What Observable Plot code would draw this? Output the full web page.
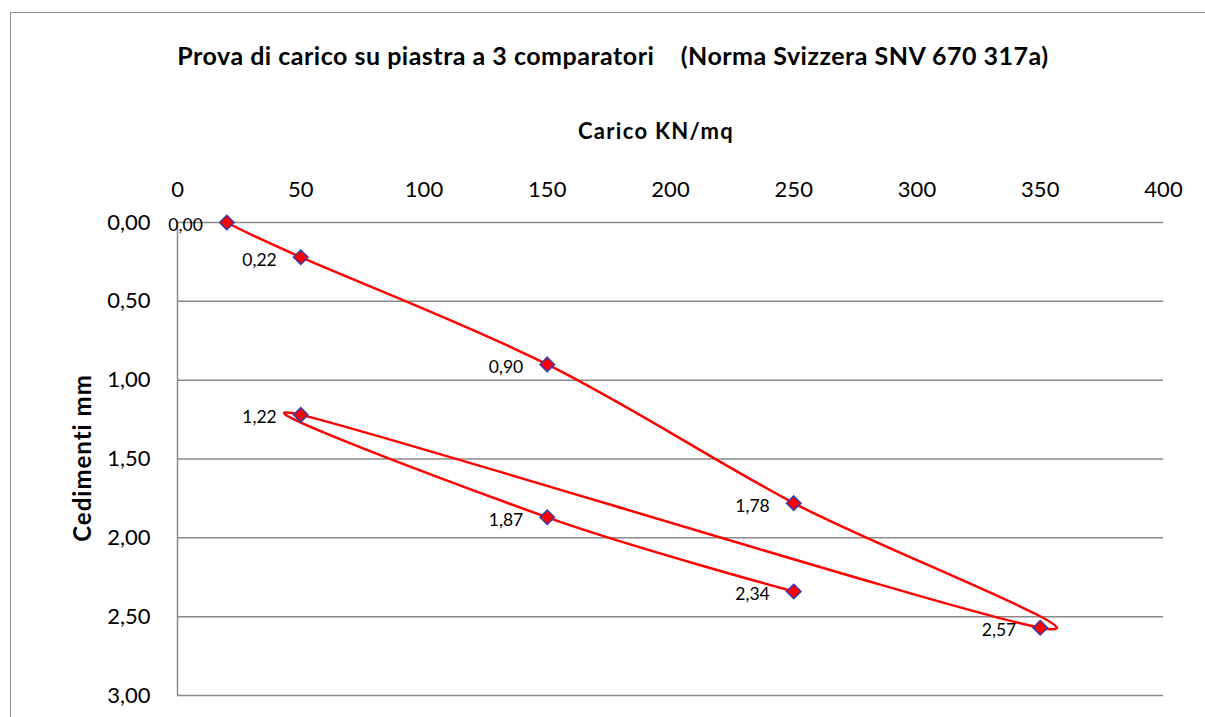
<!DOCTYPE html>
<html>
<head>
<meta charset="utf-8">
<script src="https://cdn.jsdelivr.net/npm/d3@7"></script>
<script src="https://cdn.jsdelivr.net/npm/@observablehq/plot@0.6"></script>
<style>
  html, body { margin: 0; padding: 0; background: #fff; }
  #wrap { position: relative; width: 1205px; height: 717px; overflow: hidden; font-family: Lato, "Open Sans", sans-serif; }
  #border { position: absolute; left: 10px; top: 12px; width: 1200px; height: 720px; border: 1.5px solid #8c8c8c; box-sizing: border-box; }
  .lbl { position: absolute; font-weight: bold; color: #000; white-space: pre; line-height: 1; transform-origin: center center; }
  #title { left: 613px; top: 55px; font-size: 25px; letter-spacing: 0.5px; transform: translate(-50%, -50%); }
  #xlabel { left: 656px; top: 131px; font-size: 22px; letter-spacing: 1.3px; transform: translate(-50%, -50%); }
  #ylabel { left: 82px; top: 458px; font-size: 24px; letter-spacing: 1px; transform: translate(-50%, -50%) rotate(-90deg); }
  #chart { position: absolute; left: 0; top: 0; }
</style>
</head>
<body>
<div id="wrap">
  <div id="border"></div>
  <div id="chart"></div>
  <div class="lbl" id="title">Prova di carico su piastra a 3 comparatori    (Norma Svizzera SNV 670 317a)</div>
  <div class="lbl" id="xlabel">Carico KN/mq</div>
  <div class="lbl" id="ylabel">Cedimenti mm</div>
</div>
<script>
const carico = [20, 50, 150, 250, 350, 50, 150, 250];
const cedimenti = [0.00, 0.22, 0.90, 1.78, 2.57, 1.22, 1.87, 2.34];
const etichette = ["0,00", "0,22", "0,90", "1,78", "2,57", "1,22", "1,87", "2,34"];
const xTicks = [0, 50, 100, 150, 200, 250, 300, 350, 400];
const yTicks = [0, 0.5, 1, 1.5, 2, 2.5, 3];

const data = carico.map((c, i) => ({x: c, y: cedimenti[i], label: etichette[i]}));
const fmt = d => d.toFixed(2).replace(".", ",");

const chart = Plot.plot({
  width: 1205,
  height: 717,
  marginLeft: 177,
  marginRight: 42,
  marginTop: 222,
  marginBottom: 22,
  style: {fontFamily: "Lato, 'Open Sans', sans-serif", background: "transparent"},
  x: {domain: [0, 400]},
  y: {domain: [0, 3], reverse: true},
  marks: [
    Plot.ruleY(yTicks, {stroke: "#8a8a8a", strokeWidth: 1.5}),
    Plot.ruleX([0], {stroke: "#8a8a8a", strokeWidth: 1.5}),
    Plot.axisX({anchor: "top", ticks: xTicks, tickSize: 0, tickPadding: 26, fontSize: 22, label: null}),
    Plot.axisY({anchor: "left", ticks: yTicks, tickSize: 0, tickPadding: 27, fontSize: 22, tickFormat: fmt, label: null}),
    Plot.line(data, {x: "x", y: "y", curve: "cardinal", stroke: "#ff0000", strokeWidth: 2.5}),
    Plot.dot(data, {x: "x", y: "y", symbol: "diamond2", r: 6.5, fill: "#ff0000", stroke: "#3a3aa8", strokeWidth: 1.5}),
    Plot.text(data, {x: "x", y: "y", text: "label", textAnchor: "end", dx: -24, dy: 3, fontSize: 17.5, fill: "#000"})
  ]
});
document.getElementById("chart").appendChild(chart);
</script>
</body>
</html>
